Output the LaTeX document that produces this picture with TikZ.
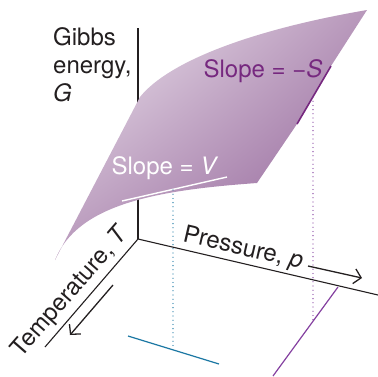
\documentclass[tikz,border=0pt]{standalone}
\usepackage{fontspec}
\setmainfont{TeX Gyre Heros}
\usepackage{tikz}
\usetikzlibrary{arrows.meta,shadings}
\definecolor{gibbsink}{HTML}{231F20}
\definecolor{gibbslight}{HTML}{F3EEF4}
\definecolor{gibbsmid}{HTML}{B898BB}
\definecolor{gibbsdark}{HTML}{8C5A93}
\definecolor{slopepurple}{HTML}{76287F}
\definecolor{cutpurple}{HTML}{8440A0}
\definecolor{cutblue}{HTML}{1B77A3}
\tikzset{
  lbl/.style={font=\fontsize{24}{28}\selectfont, inner sep=0pt, text=gibbsink},
  axisline/.style={gibbsink, line width=1.1pt},
  dirarrow/.style={gibbsink, line width=1.3pt, -{Straight Barb[length=7pt,width=15pt]}},
  dotline/.style={line width=1.3pt, dash pattern=on 0pt off 4.2pt, line cap=round}
}

\begin{document}
\begin{tikzpicture}[x=1pt,y=-1pt]
\useasboundingbox (0,0) rectangle (378,376);
% axes
\coordinate (O) at (138,239);
\coordinate (Gtop) at (138,28);
\coordinate (Pend) at (378,295);
\coordinate (Tend) at (45,347);
\draw[axisline] (O)--(Gtop);
\draw[axisline] (O)--(Pend);
\draw[axisline] (O)--(Tend);
% the G surface
\coordinate (A) at (140,97);
\coordinate (B) at (367,10);
\coordinate (C) at (257,183);
\coordinate (D) at (55,260);
\coordinate (Su) at (331,66);
\coordinate (Sl) at (297,124);
\coordinate (St) at (313,97);
\shade[upper left=gibbslight, upper right=gibbsmid, lower left=gibbsmid, lower right=gibbsdark]
  (A) .. controls (168,62) and (250,30) .. (B) -- (Su) -- (Sl) -- (C)
  .. controls (160,190) and (78,203) .. (D) -- cycle;
% tangent lines
\coordinate (Vl) at (122,201);
\coordinate (Vr) at (227,177);
\coordinate (Vt) at (173,190);
\draw[white, line width=1.4pt] (Vl)--(Vr);
\draw[slopepurple, line width=1.6pt] (Su)--(Sl);
% projections
\coordinate (Vb) at (173,347);
\coordinate (Ba) at (128,336);
\coordinate (Bb) at (219,364);
\draw[cutblue, dotline] (Vt)--(Vb);
\draw[cutblue, line width=1.2pt] (Ba)--(Bb);
\coordinate (Sb) at (313,321);
\coordinate (Pa) at (338,287);
\coordinate (Pb) at (273,376);
\draw[cutpurple, dotline] (St)--(Sb);
\draw[cutpurple, line width=1.2pt] (Pa)--(Pb);
% labels
\node[lbl, align=left, anchor=north west] (glabel) at (53,27) {Gibbs\\energy,\\\textit{G}};
\node[lbl, text=white] (vlabel) at (165,168) {Slope = \textit{V}};
\node[lbl, text=slopepurple] (slabel) at (263,71) {Slope = −\textit{S}};
\node[lbl, rotate=49] (tlabel) at (71,292) {Temperature, \textit{T}};
\node[lbl, rotate=-13] (plabel) at (243,249) {Pressure, \textit{p}};
\coordinate (Ta) at (113,285);
\coordinate (Tb) at (70,335);
\coordinate (Pra) at (308,266);
\coordinate (Prb) at (362,278);
\draw[dirarrow] (Ta)--(Tb);
\draw[dirarrow] (Pra)--(Prb);
\end{tikzpicture}
\end{document}
